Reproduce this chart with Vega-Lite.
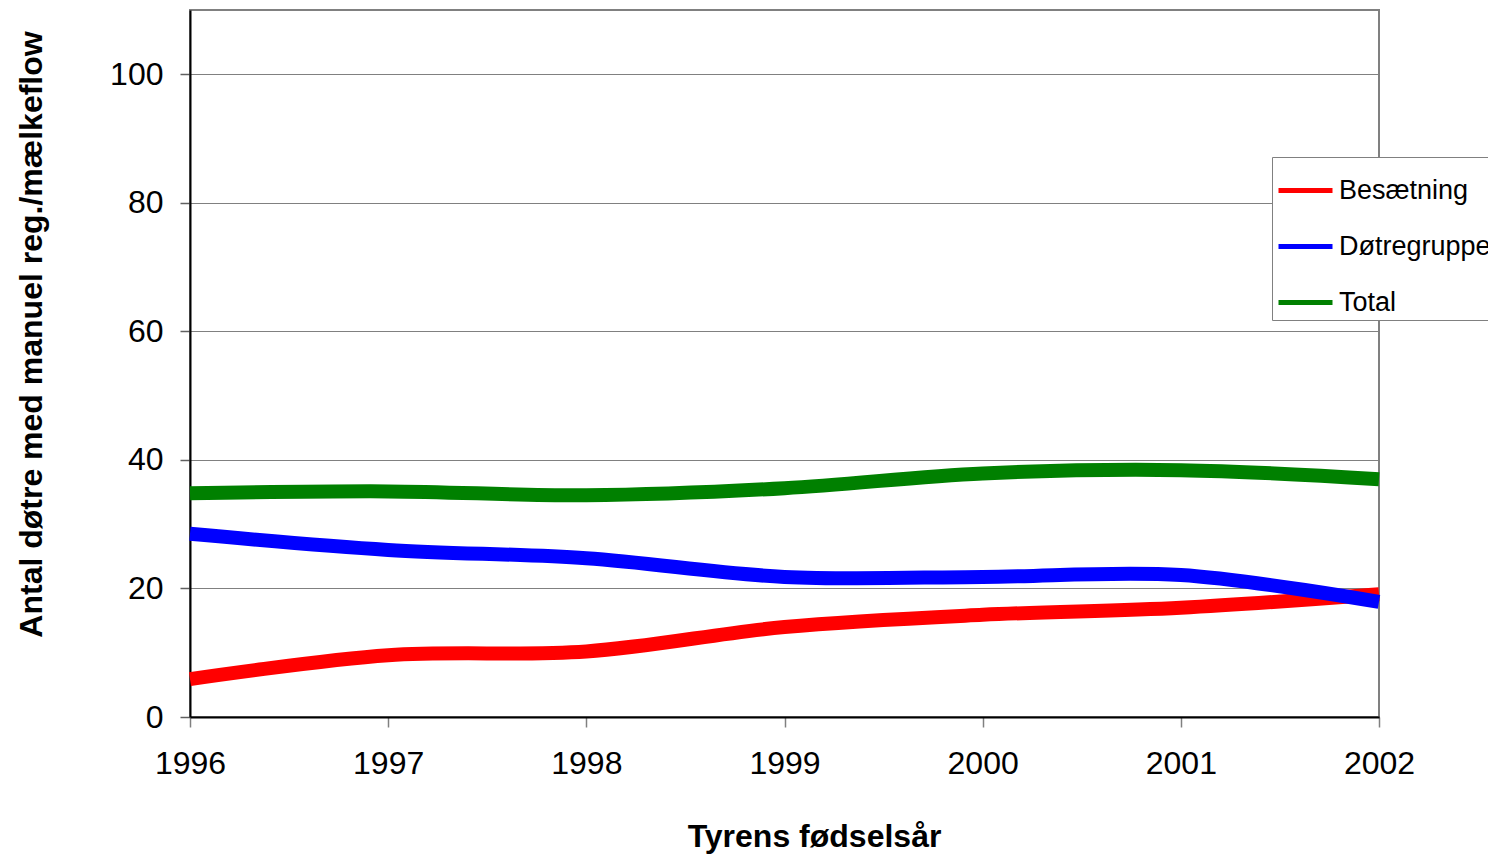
{
  "$schema": "https://vega.github.io/schema/vega-lite/v6.json",
  "autosize": {"type": "none"},
  "width": 1189,
  "height": 707,
  "padding": {"left": 190, "top": 10, "right": 109, "bottom": 139},
  "background": "white",
  "config": {
    "font": "Liberation Sans",
    "view": {"stroke": "#808080", "strokeWidth": 2}
  },
  "data": {
    "values": [
      {"year": 1996, "serie": "Besætning", "value": 5.9},
      {"year": 1997, "serie": "Besætning", "value": 9.6},
      {"year": 1998, "serie": "Besætning", "value": 10.2},
      {"year": 1999, "serie": "Besætning", "value": 14.0},
      {"year": 2000, "serie": "Besætning", "value": 15.9},
      {"year": 2001, "serie": "Besætning", "value": 17.0},
      {"year": 2002, "serie": "Besætning", "value": 19.1},
      {"year": 1996, "serie": "Døtregruppe", "value": 28.5},
      {"year": 1997, "serie": "Døtregruppe", "value": 26.0},
      {"year": 1998, "serie": "Døtregruppe", "value": 24.7},
      {"year": 1999, "serie": "Døtregruppe", "value": 21.8},
      {"year": 2000, "serie": "Døtregruppe", "value": 21.8},
      {"year": 2001, "serie": "Døtregruppe", "value": 22.1},
      {"year": 2002, "serie": "Døtregruppe", "value": 17.9},
      {"year": 1996, "serie": "Total", "value": 34.8},
      {"year": 1997, "serie": "Total", "value": 35.1},
      {"year": 1998, "serie": "Total", "value": 34.5},
      {"year": 1999, "serie": "Total", "value": 35.6},
      {"year": 2000, "serie": "Total", "value": 37.9},
      {"year": 2001, "serie": "Total", "value": 38.4},
      {"year": 2002, "serie": "Total", "value": 37.0}
    ]
  },
  "mark": {"type": "line", "interpolate": "catmull-rom", "strokeWidth": 14, "strokeCap": "butt", "strokeJoin": "round"},
  "encoding": {
    "x": {
      "field": "year",
      "type": "quantitative",
      "scale": {"domain": [1996, 2002], "nice": false, "zero": false},
      "axis": {
        "title": "Tyrens fødselsår",
        "values": [1996, 1997, 1998, 1999, 2000, 2001, 2002],
        "format": "d",
        "grid": false,
        "labelFontSize": 32,
        "labelColor": "black",
        "labelPadding": 21,
        "labelFlush": false,
        "labelOverlap": false,
        "tickColor": "#808080",
        "tickSize": 10,
        "tickWidth": 1.5,
        "domainColor": "black",
        "domainWidth": 2,
        "titleFontSize": 32,
        "titleFontWeight": "bold",
        "titleColor": "black",
        "titleX": 624,
        "titleY": 119,
        "titleBaseline": "middle",
        "titleAlign": "center"
      }
    },
    "y": {
      "field": "value",
      "type": "quantitative",
      "scale": {"domain": [0, 110], "nice": false},
      "axis": {
        "title": "Antal døtre med manuel reg./mælkeflow",
        "values": [0, 20, 40, 60, 80, 100],
        "grid": true,
        "gridColor": "#808080",
        "gridWidth": 1,
        "labelFontSize": 32,
        "labelColor": "black",
        "labelPadding": 17,
        "tickColor": "#606060",
        "tickSize": 10,
        "tickWidth": 1.5,
        "domainColor": "black",
        "domainWidth": 2,
        "titleFontSize": 32,
        "titleFontWeight": "bold",
        "titleColor": "black",
        "titleAngle": -90,
        "titleX": -159,
        "titleY": 324,
        "titleBaseline": "middle",
        "titleAlign": "center"
      }
    },
    "color": {
      "field": "serie",
      "type": "nominal",
      "scale": {"domain": ["Besætning", "Døtregruppe", "Total"], "range": ["#ff0000", "#0000ff", "#008000"]},
      "legend": {
        "title": null,
        "orient": "none",
        "legendX": 1082,
        "legendY": 147,
        "symbolType": "stroke",
        "symbolSize": 2916,
        "symbolStrokeWidth": 5,
        "labelFontSize": 27,
        "labelColor": "black",
        "labelOffset": 4,
        "rowPadding": 13,
        "padding": 4,
        "strokeColor": "#808080",
        "fillColor": "white",
        "labelLimit": 400
      }
    }
  }
}
